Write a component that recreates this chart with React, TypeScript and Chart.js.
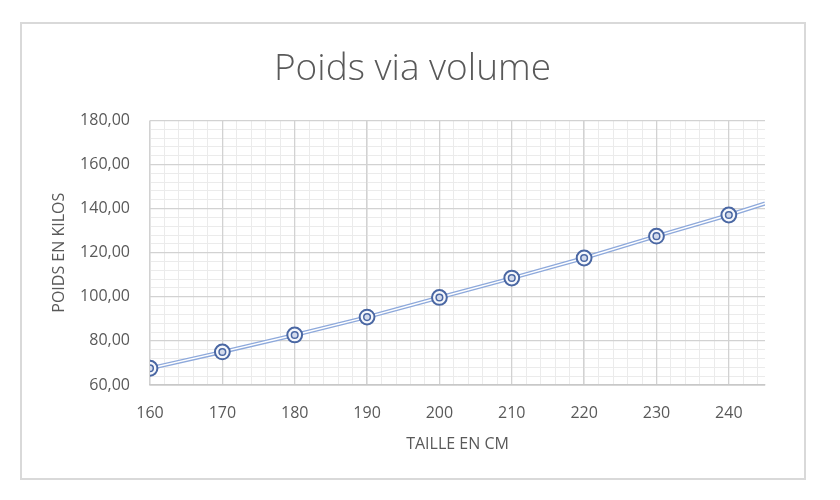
import { useEffect, useRef } from "react";
import { Chart, registerables } from "chart.js";

Chart.register(...registerables);

// Taille (cm) et poids (kg)
const heights = [160, 170, 180, 190, 200, 210, 220, 230, 240];
const weights = [67.6, 75.0, 82.7, 90.8, 99.7, 108.5, 117.6, 127.5, 137.1];
// Courbe de tendance : prolongée jusqu'au bord droit de l'axe
const trendExtraX = [245];
const trendExtraY = [142.3];

const chartTitle = "Poids via volume";
const xTitle = "TAILLE EN CM";
const yTitle = "POIDS EN KILOS";

const TEXT = "#595959";
const MARKER = "#4a67a3";
const LINE = "#8ea9db";

export default function App() {
  const canvasRef = useRef<HTMLCanvasElement | null>(null);

  useEffect(() => {
    if (!canvasRef.current) return;
    Chart.defaults.font.family = "'Open Sans', 'DejaVu Sans', sans-serif";
    Chart.defaults.color = TEXT;

    const points = heights.map((h, i) => ({ x: h, y: weights[i] }));
    const trend = [
      ...points,
      ...trendExtraX.map((x, i) => ({ x, y: trendExtraY[i] })),
    ];

    const fmt = (v: number) => v.toFixed(2).replace(".", ",");

    const chart = new Chart(canvasRef.current, {
      type: "scatter",
      data: {
        datasets: [
          {
            label: "inner",
            data: points,
            pointRadius: 3.3,
            pointBorderWidth: 1.5,
            pointBorderColor: MARKER,
            pointBackgroundColor: "#d3dbec",
            showLine: false,
            order: 0,
          },
          {
            label: "outer",
            data: points,
            pointRadius: 7.4,
            pointBorderWidth: 2,
            pointBorderColor: MARKER,
            pointBackgroundColor: "#f6f8fc",
            showLine: false,
            order: 1,
          },
          {
            label: "trendInner",
            data: trend,
            showLine: true,
            borderColor: "#ffffff",
            borderWidth: 1.4,
            pointRadius: 0,
            order: 2,
          },
          {
            label: "trendOuter",
            data: trend,
            showLine: true,
            borderColor: LINE,
            borderWidth: 4,
            pointRadius: 0,
            order: 3,
          },
        ],
      },
      options: {
        animation: false,
        responsive: false,
        layout: { padding: { top: 30, left: 60, right: 75, bottom: 20 } },
        plugins: {
          legend: { display: false },
          tooltip: { enabled: false },
          title: {
            display: true,
            text: chartTitle,
            color: TEXT,
            font: { size: 37, weight: "300" },
            padding: { top: 17, bottom: 29 },
          },
        },
        scales: {
          xMinor: {
            type: "linear",
            position: "bottom",
            min: 160,
            max: 245,
            ticks: { display: false, stepSize: 2, includeBounds: false },
            grid: { color: "#ebebeb", lineWidth: 1, drawTicks: false, z: -2 },
            border: { display: false },
            afterFit: (s: any) => {
              s.height = 0;
            },
          },
          yMinor: {
            type: "linear",
            position: "left",
            min: 60,
            max: 180,
            ticks: { display: false, stepSize: 4 },
            grid: { color: "#ebebeb", lineWidth: 1, drawTicks: false, z: -2 },
            border: { display: false },
            afterFit: (s: any) => {
              s.width = 0;
            },
          },
          x: {
            type: "linear",
            position: "bottom",
            min: 160,
            max: 245,
            ticks: {
              stepSize: 10,
              includeBounds: false,
              padding: 19,
              color: TEXT,
              font: { size: 16 },
              callback: (v: any) => String(Math.round(Number(v))),
            },
            grid: { color: "#d2d2d2", lineWidth: 1.3, drawTicks: false },
            border: { display: true, color: "#c8c8c8", width: 1.6 },
            title: {
              display: true,
              text: xTitle,
              color: TEXT,
              font: { size: 16 },
              padding: { top: 0, bottom: 26 },
            },
            afterFit: (s: any) => {
              s.height = 95;
            },
          },
          y: {
            type: "linear",
            position: "left",
            min: 60,
            max: 180,
            ticks: {
              stepSize: 20,
              padding: 20,
              color: TEXT,
              font: { size: 16 },
              callback: (v: any) => fmt(Number(v)),
            },
            grid: { color: "#d2d2d2", lineWidth: 1.3, drawTicks: false },
            border: { display: false },
            title: {
              display: true,
              text: yTitle,
              color: TEXT,
              font: { size: 16 },
              padding: { top: -10.6, bottom: 0 },
            },
            afterFit: (s: any) => {
              s.width = 90;
            },
          },
        },
      },
    });

    return () => chart.destroy();
  }, []);

  return (
    <div
      style={{
        position: "absolute",
        left: 0,
        top: 0,
        width: 840,
        height: 500,
        background: "#ffffff",
      }}
    >
      <canvas ref={canvasRef} width={840} height={500} style={{ display: "block" }} />
      <div
        style={{
          position: "absolute",
          left: 20,
          top: 22,
          width: 786,
          height: 458,
          border: "2px solid #d9d9d9",
          boxSizing: "border-box",
          pointerEvents: "none",
        }}
      />
    </div>
  );
}
